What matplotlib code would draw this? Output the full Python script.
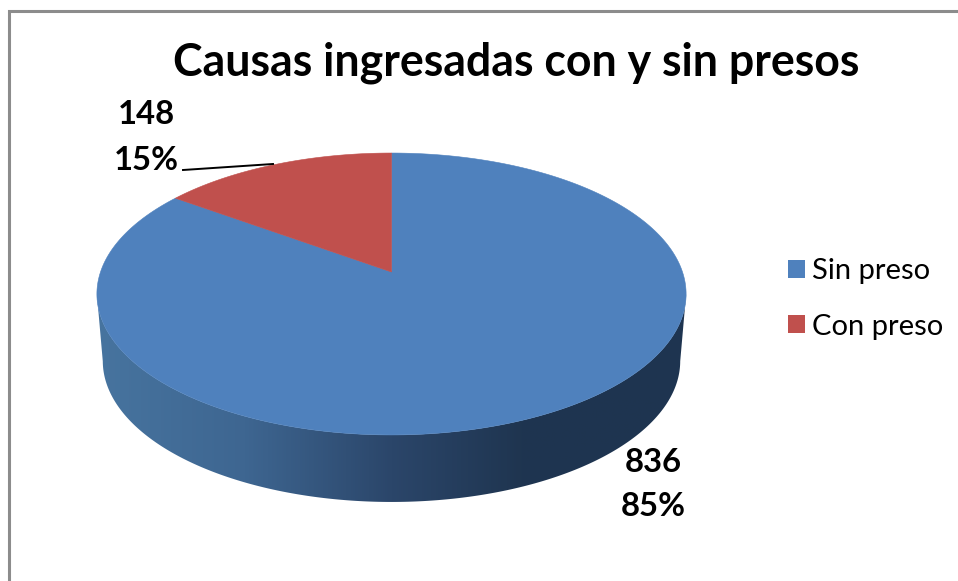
import numpy as np
import matplotlib
matplotlib.use("Agg")
import matplotlib.pyplot as plt
from matplotlib.colors import LinearSegmentedColormap
from matplotlib.patches import Patch, Polygon

plt.rcParams["font.family"] = ["Lato", "DejaVu Sans"]

title = "Causas ingresadas con y sin presos"
labels = ["Sin preso", "Con preso"]
values = [836, 148]
percents = ["85%", "15%"]
colors = ["#4f81bd", "#c0504d"]

# perspective of the tilted disc, pixels of the 958x581 picture
CX, CY = 391.5, 272
RX = 291
KP, AP = 0.156, -95.1
DEPTH = 67
SHRINK = 0.98


def project(theta):
    # theta clockwise from the top of the disc
    u, v = np.sin(theta), np.cos(theta)
    d = 1 + KP * v
    return CX + RX * u / d, (CY + AP * v) / d


fig = plt.figure(figsize=(9.58, 5.81), dpi=100)
ax = fig.add_axes([0, 0, 1, 1])
ax.axis("off")

# side wall, between the widest points of the disc
t = np.linspace(0, 2 * np.pi, 1440)
x_all, y_all = project(t)
i_r, i_l = np.argmax(x_all), np.argmin(x_all)
x_top, y_top = x_all[i_r:i_l + 1], y_all[i_r:i_l + 1]
x_low = CX + (x_top - CX) * SHRINK
y_low = y_top + DEPTH
wall = Polygon(np.r_[np.c_[x_top, y_top], np.c_[x_low, y_low][::-1]], closed=True,
               fc="none", ec="none", transform=ax.transData)
ax.add_patch(wall)
cmap = LinearSegmentedColormap.from_list("wall", [
    (0.0, "#47749f"), (0.25, "#3e6691"), (0.5, "#2b466a"), (0.72, "#1f3550"), (1.0, "#1e3450"),
])
img = ax.imshow(np.linspace(0, 1, 512).reshape(1, -1), cmap=cmap, aspect="auto",
                extent=[x_top.min(), x_top.max(), 510, 280], zorder=1)
img.set_clip_path(wall)

# top of the pie
edges = np.r_[0, np.cumsum(values)] / sum(values) * 2 * np.pi
for i, c in enumerate(colors):
    th = np.linspace(edges[i], edges[i + 1], 300)
    xs, ys = project(th)
    pts = np.r_[[[CX, CY]], np.c_[xs, ys]]
    ax.add_patch(Polygon(pts, closed=True, fc=c, ec=c, lw=0.4, zorder=2))

# data labels
lab_style = dict(ha="center", va="center", fontsize=23.7, fontweight="bold", color="black", zorder=4)
ax.text(653, 463, str(values[0]), **lab_style)
ax.text(653, 507, percents[0], **lab_style)
ax.text(146, 115, str(values[1]), **lab_style)
ax.text(146, 161, percents[1], **lab_style)
ax.plot([183, 273], [170, 164], color="black", lw=1.4, zorder=4)

ax.text(516, 63, title, ha="center", va="center", fontsize=32.1, fontweight="bold", color="black")

handles = [Patch(fc=c, ec="none") for c in colors]
ax.legend(handles, labels, loc="center left", bbox_to_anchor=(788, 299),
          bbox_transform=ax.transData, frameon=False, fontsize=21,
          handlelength=0.58, handleheight=0.58, handletextpad=0.24,
          labelspacing=1.0, borderpad=0, borderaxespad=0)

# chart frame, cut off by the screenshot on the right and at the bottom
ax.plot([9.5, 9.5, 958], [581, 10.5, 10.5], color="#8c8c8c", lw=2.2, solid_joinstyle="miter", zorder=5)

ax.set_xlim(0, 958)
ax.set_ylim(581, 0)

fig.savefig("out.png", dpi=100)
